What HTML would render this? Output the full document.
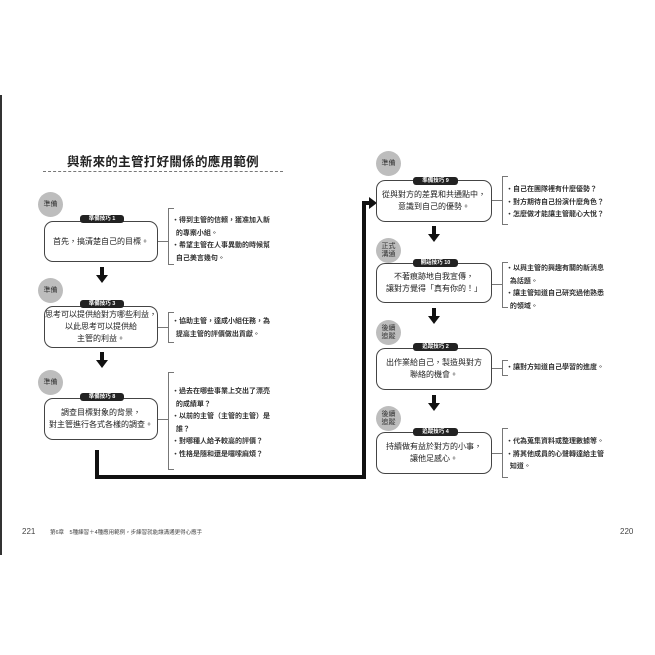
<!DOCTYPE html>
<html><head><meta charset="utf-8"><style>
body{margin:0;width:655px;height:655px;background:#fff;position:relative;overflow:hidden;font-family:"Liberation Sans","Noto Sans CJK TC",sans-serif;color:#222}
.a{position:absolute}
.c{position:absolute;width:25px;height:25px;border-radius:50%;background:#bdbdbd;font-size:7px;line-height:8px;display:flex;align-items:center;justify-content:center;text-align:center;color:#333}
.b{position:absolute;border:1.3px solid #444;border-radius:9px;background:#fff;box-sizing:border-box;font-size:8px;line-height:12px;text-align:center;display:flex;align-items:center;justify-content:center;white-space:nowrap}
.t{position:absolute;background:#222;color:#fff;font-size:5.5px;line-height:8px;height:8px;border-radius:3px;text-align:center;font-weight:bold}
.k{position:absolute;border:1px solid #777;border-right:none;width:6px;box-sizing:border-box}
.kl{position:absolute;height:1px;background:#777;width:10px}
.n{position:absolute;font-size:7px;line-height:12.5px;font-weight:bold;color:#333;white-space:nowrap}
.ar{position:absolute;width:0;height:0;border-left:6px solid transparent;border-right:6px solid transparent;border-top:8px solid #111}
.as{position:absolute;width:4px;height:8px;background:#111}
</style></head><body>
<div class="a" style="left:0;top:95px;width:2px;height:460px;background:#333"></div>
<div class="a" style="left:43px;top:151px;width:240px;text-align:center;font-size:12.5px;font-weight:bold;letter-spacing:0.3px">與新來的主管打好關係的應用範例</div>
<div class="a" style="left:43px;top:171px;width:240px;border-top:1px dashed #777"></div>

<!-- left column -->
<div class="c" style="left:38px;top:192px">準備</div>
<div class="b" style="left:44px;top:221px;width:114px;height:41px">首先，搞清楚自己的目標。</div>
<div class="t" style="left:80px;top:215px;width:44px">準備技巧 1</div>
<div class="kl" style="left:158px;top:241px"></div>
<div class="k" style="left:168px;top:208px;height:57px"></div>
<div class="n" style="left:172px;top:215px">・得到主管的信賴，獲准加入新<br>&nbsp;&nbsp;的專案小組。<br>・希望主管在人事異動的時候幫<br>&nbsp;&nbsp;自己美言幾句。</div>
<div class="as" style="left:100px;top:267px"></div><div class="ar" style="left:96px;top:275px"></div>

<div class="c" style="left:38px;top:278px">準備</div>
<div class="b" style="left:44px;top:306px;width:114px;height:42px">思考可以提供給對方哪些利益，<br>以此思考可以提供給<br>主管的利益。</div>
<div class="t" style="left:80px;top:300px;width:44px">準備技巧 3</div>
<div class="kl" style="left:158px;top:327px"></div>
<div class="k" style="left:168px;top:312px;height:31px"></div>
<div class="n" style="left:172px;top:316px">・協助主管，達成小組任務，為<br>&nbsp;&nbsp;提高主管的評價做出貢獻。</div>
<div class="as" style="left:100px;top:352px"></div><div class="ar" style="left:96px;top:360px"></div>

<div class="c" style="left:38px;top:370px">準備</div>
<div class="b" style="left:44px;top:398px;width:114px;height:42px">調查目標對象的背景，<br>對主管進行各式各樣的調查。</div>
<div class="t" style="left:80px;top:393px;width:44px">準備技巧 8</div>
<div class="kl" style="left:158px;top:419px"></div>
<div class="k" style="left:168px;top:372px;height:98px"></div>
<div class="n" style="left:172px;top:386px">・過去在哪些事業上交出了漂亮<br>&nbsp;&nbsp;的成績單？<br>・以前的主管（主管的主管）是<br>&nbsp;&nbsp;誰？<br>・對哪種人給予較高的評價？<br>・性格是隨和還是囉嗦麻煩？</div>

<!-- thick connector -->
<div class="a" style="left:95px;top:450px;width:4px;height:29px;background:#111"></div>
<div class="a" style="left:95px;top:475px;width:271px;height:4px;background:#111"></div>
<div class="a" style="left:362px;top:201px;width:4px;height:278px;background:#111"></div>
<div class="a" style="left:362px;top:201px;width:8px;height:4px;background:#111"></div>
<div class="a" style="left:369px;top:197px;width:0;height:0;border-top:6px solid transparent;border-bottom:6px solid transparent;border-left:8px solid #111"></div>

<!-- right column -->
<div class="c" style="left:376px;top:151px">準備</div>
<div class="b" style="left:376px;top:180px;width:116px;height:42px">從與對方的差異和共通點中，<br>意識到自己的優勢。</div>
<div class="t" style="left:413px;top:177px;width:45px">準備技巧 9</div>
<div class="kl" style="left:492px;top:200px"></div>
<div class="k" style="left:502px;top:176px;height:49px"></div>
<div class="n" style="left:506px;top:184px">・自己在團隊裡有什麼優勢？<br>・對方期待自己扮演什麼角色？<br>・怎麼做才能讓主管龍心大悅？</div>
<div class="as" style="left:432px;top:226px"></div><div class="ar" style="left:428px;top:234px"></div>

<div class="c" style="left:376px;top:238px">正式<br>溝通</div>
<div class="b" style="left:376px;top:263px;width:116px;height:40px">不著痕跡地自我宣傳，<br>讓對方覺得「真有你的！」</div>
<div class="t" style="left:413px;top:259px;width:45px">開話技巧 10</div>
<div class="kl" style="left:492px;top:284px"></div>
<div class="k" style="left:502px;top:262px;height:46px"></div>
<div class="n" style="left:506px;top:263px">・以與主管的興趣有關的新消息<br>&nbsp;&nbsp;為話題。<br>・讓主管知道自己研究過他熟悉<br>&nbsp;&nbsp;的領域。</div>
<div class="as" style="left:432px;top:308px"></div><div class="ar" style="left:428px;top:316px"></div>

<div class="c" style="left:376px;top:320px">後續<br>追蹤</div>
<div class="b" style="left:376px;top:348px;width:116px;height:42px">出作業給自己，製造與對方<br>聯絡的機會。</div>
<div class="t" style="left:413px;top:343px;width:45px">追蹤技巧 2</div>
<div class="kl" style="left:492px;top:368px"></div>
<div class="k" style="left:502px;top:360px;height:16px"></div>
<div class="n" style="left:506px;top:362px">・讓對方知道自己學習的進度。</div>
<div class="as" style="left:432px;top:395px"></div><div class="ar" style="left:428px;top:403px"></div>

<div class="c" style="left:376px;top:406px">後續<br>追蹤</div>
<div class="b" style="left:376px;top:432px;width:116px;height:42px">持續做有益於對方的小事，<br>讓他足感心。</div>
<div class="t" style="left:413px;top:428px;width:45px">追蹤技巧 4</div>
<div class="kl" style="left:492px;top:453px"></div>
<div class="k" style="left:502px;top:428px;height:50px"></div>
<div class="n" style="left:506px;top:436px">・代為蒐集資料或整理數據等。<br>・將其他成員的心聲轉達給主管<br>&nbsp;&nbsp;知道。</div>

<div class="a" style="left:22px;top:527px;font-size:8px;color:#444">221</div>
<div class="a" style="left:50px;top:528px;font-size:5.5px;color:#444">第6章　5種練習＋4種應用範例，步練習就能讓溝通更得心應手</div>
<div class="a" style="left:620px;top:527px;font-size:8px;color:#444">220</div>
</body></html>
